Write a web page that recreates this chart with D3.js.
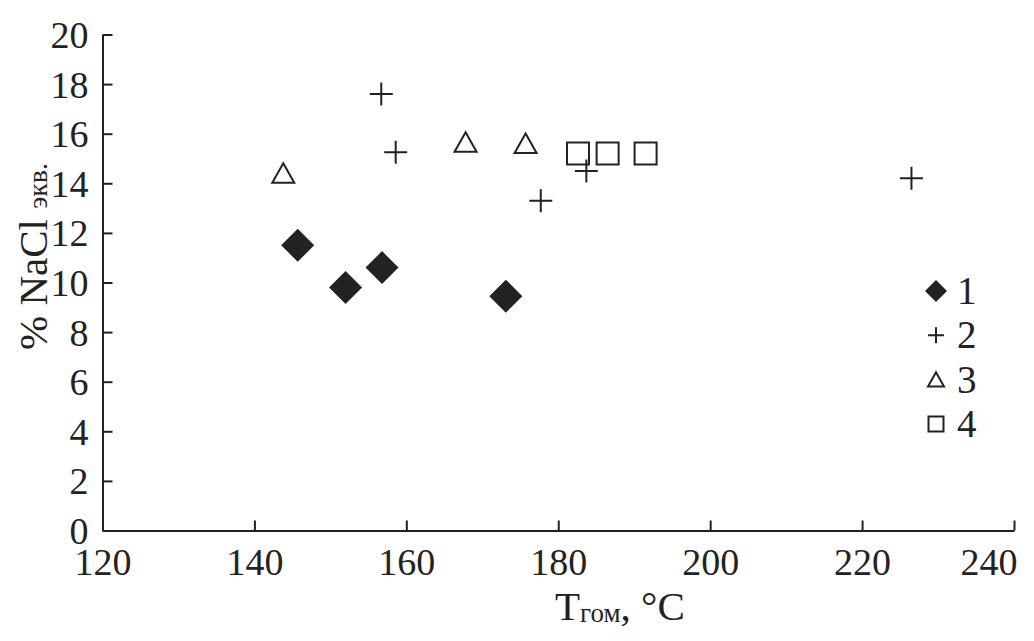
<!DOCTYPE html>
<html>
<head>
<meta charset="utf-8">
<script src="https://cdn.jsdelivr.net/npm/d3@7"></script>
<style>
  body { margin: 0; background: #fff; }
  svg { display: block; }
  text { font-family: "Liberation Serif", "Times New Roman", serif; fill: #222; }
</style>
</head>
<body>
<svg id="chart" width="1034" height="641"></svg>
<script>
// data
var t1 = [145.7, 152.0, 156.8, 173.1];
var c1 = [11.5, 9.8, 10.6, 9.45];
var t2 = [156.7, 158.6, 177.7, 183.7, 226.5];
var c2 = [17.6, 15.25, 13.3, 14.5, 14.2];
var t3 = [143.8, 167.8, 175.7];
var c3 = [14.4, 15.65, 15.6];
var t4 = [182.6, 186.5, 191.5];
var c4 = [15.2, 15.2, 15.2];
var xTicks = [120, 140, 160, 180, 200, 220, 240];
var yTicks = [0, 2, 4, 6, 8, 10, 12, 14, 16, 18, 20];
var legendLabels = ["1", "2", "3", "4"];

var ink = "#222";
var svg = d3.select("#chart");
var plotL = 102.5, plotR = 1014, plotT = 34.5, plotB = 530.5;

var x = d3.scaleLinear().domain([120, 240]).range([plotL, plotR]);
var y = d3.scaleLinear().domain([0, 20]).range([plotB, plotT]);

// marker shapes, s = full width
function marker(type, s) {
  var h = s / 2;
  if (type == "diamond") return "M0," + (-h) + "L" + h + ",0L0," + h + "L" + (-h) + ",0Z";
  if (type == "plus") return "M" + (-h) + ",0H" + h + "M0," + (-h) + "V" + h;
  if (type == "triangle") return "M0," + (-h * 0.92) + "L" + h + "," + (h * 0.85) + "L" + (-h) + "," + (h * 0.85) + "Z";
  return "M" + (-h) + "," + (-h) + "H" + h + "V" + h + "H" + (-h) + "Z";
}
function styleMarker(sel, type) {
  if (type == "diamond") sel.attr("fill", ink).attr("stroke", "none");
  else sel.attr("fill", "none").attr("stroke", ink).attr("stroke-width", 2);
}

var yAxis = svg.append("g")
  .attr("transform", "translate(" + plotL + ",0)")
  .call(d3.axisLeft(y).tickValues(yTicks).tickSizeInner(-10).tickSizeOuter(0).tickPadding(14));
var xAxis = svg.append("g")
  .attr("transform", "translate(0," + plotB + ")")
  .call(d3.axisBottom(x).tickValues(xTicks).tickSizeInner(-10).tickSizeOuter(0).tickPadding(18));

[yAxis, xAxis].forEach(function(a) {
  a.select(".domain").attr("stroke", ink).attr("stroke-width", 2);
  a.selectAll(".tick line").attr("stroke", ink).attr("stroke-width", 2);
  a.selectAll(".tick text").attr("font-size", 38).attr("fill", ink)
    .style("font-family", "'Liberation Serif', serif");
});
yAxis.selectAll(".tick text").attr("dy", "0.34em");
xAxis.selectAll(".tick text").attr("dy", "0.71em");
// last x label is pulled inside the picture, as in the original
xAxis.selectAll(".tick text").filter(function(d) { return d == 240; })
  .attr("text-anchor", "end").attr("x", 3);

var series = [
  {type: "diamond", t: t1, c: c1, s: 33},
  {type: "plus", t: t2, c: c2, s: 23},
  {type: "triangle", t: t3, c: c3, s: 22},
  {type: "square", t: t4, c: c4, s: 22}
];

series.forEach(function(sr) {
  var pts = sr.t.map(function(d, i) { return {t: d, c: sr.c[i]}; });
  svg.append("g").selectAll("path")
    .data(pts)
    .enter().append("path")
    .attr("d", marker(sr.type, sr.s))
    .attr("transform", function(d) { return "translate(" + x(d.t) + "," + y(d.c) + ")"; })
    .call(styleMarker, sr.type);
});

// legend
var legendSizes = [22, 16, 16, 15];
var lg = svg.append("g").attr("transform", "translate(936,291)");
series.forEach(function(sr, i) {
  var row = lg.append("g").attr("transform", "translate(0," + (i * 44.3) + ")");
  row.append("path").attr("d", marker(sr.type, legendSizes[i])).call(styleMarker, sr.type);
  row.append("text").attr("x", 21).attr("y", 13).attr("font-size", 39).text(legendLabels[i]);
});

// axis titles
var xt = svg.append("text").attr("x", 555).attr("y", 620).attr("font-size", 41);
xt.append("tspan").text("T");
xt.append("tspan").attr("font-size", 27).attr("dy", 2).text("гом");
xt.append("tspan").attr("dy", -2).text(", °C");

var yt = svg.append("text")
  .attr("transform", "translate(47,350) rotate(-90)")
  .attr("font-size", 41);
yt.append("tspan").text("% NaCl ");
yt.append("tspan").attr("font-size", 28).text("экв.");
</script>
</body>
</html>
